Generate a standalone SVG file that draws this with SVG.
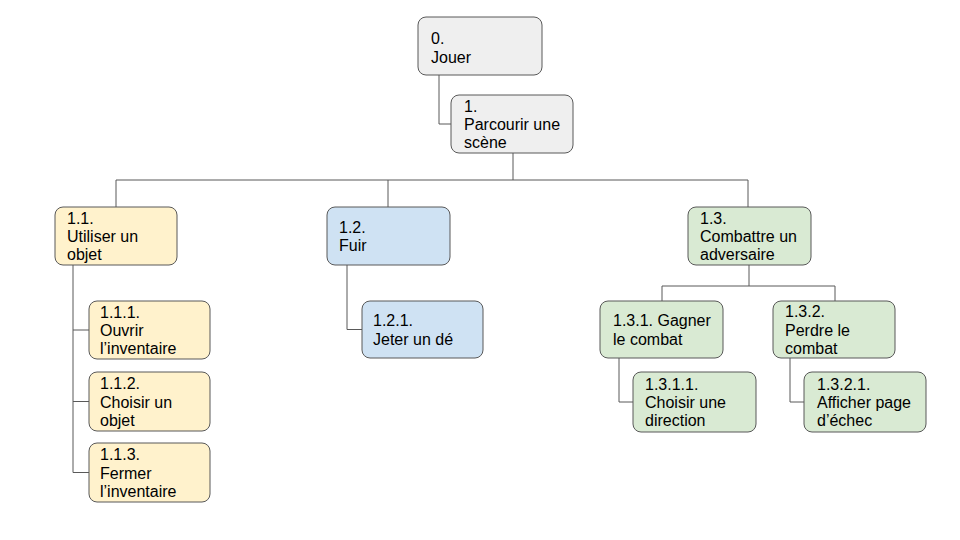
<svg xmlns="http://www.w3.org/2000/svg" width="960" height="540" viewBox="0 0 960 540">
<style>
  .box { stroke: #595959; stroke-width: 1; }
  .grey { fill: #efefef; }
  .yellow { fill: #fff2cc; }
  .blue { fill: #cfe2f3; }
  .green { fill: #d9ead3; }
  text { font-family: "Liberation Sans", Arial, sans-serif; font-size: 16px; fill: #000; }
  .conn { fill: none; stroke: #595959; stroke-width: 1; }
</style>
<rect width="960" height="540" fill="#ffffff"/>
<g id="connectors">
  <path class="conn" d="M439,75 V124 H451"/>
  <path class="conn" d="M513,153 V180"/>
  <path class="conn" d="M116,180 H748"/>
  <path class="conn" d="M116,180 V207"/>
  <path class="conn" d="M388,180 V207"/>
  <path class="conn" d="M748,180 V207"/>
  <path class="conn" d="M73,265 V472.5"/>
  <path class="conn" d="M73,330 H89"/>
  <path class="conn" d="M73,401.5 H89"/>
  <path class="conn" d="M73,472.5 H89"/>
  <path class="conn" d="M347,265 V329.5 H362"/>
  <path class="conn" d="M749,265 V286"/>
  <path class="conn" d="M662,286 H835"/>
  <path class="conn" d="M662,286 V301"/>
  <path class="conn" d="M835,286 V301"/>
  <path class="conn" d="M619,358 V402 H633"/>
  <path class="conn" d="M790,358 V402 H804"/>
</g>
<g id="n0">
  <rect class="box grey" x="418" y="17" width="124" height="58" rx="8"/>
  <text x="431" y="44">0.</text>
  <text x="431" y="63.3">Jouer</text>
</g>
<g id="n1">
  <rect class="box grey" x="451" y="95" width="122" height="58" rx="8"/>
  <text x="464" y="111.6">1.</text>
  <text x="464" y="130">Parcourir une</text>
  <text x="464" y="148.4">scène</text>
</g>
<g id="n1_1">
  <rect class="box yellow" x="55" y="207" width="122" height="58" rx="8"/>
  <text x="67" y="223.6">1.1.</text>
  <text x="67" y="242">Utiliser un</text>
  <text x="67" y="260.4">objet</text>
</g>
<g id="n1_1_1">
  <rect class="box yellow" x="89" y="301" width="121" height="58" rx="8"/>
  <text x="100" y="317.6">1.1.1.</text>
  <text x="100" y="336">Ouvrir</text>
  <text x="100" y="354.4">l’inventaire</text>
</g>
<g id="n1_1_2">
  <rect class="box yellow" x="89" y="372" width="121" height="59" rx="8"/>
  <text x="100" y="389.1">1.1.2.</text>
  <text x="100" y="407.5">Choisir un</text>
  <text x="100" y="425.9">objet</text>
</g>
<g id="n1_1_3">
  <rect class="box yellow" x="89" y="443" width="121" height="59" rx="8"/>
  <text x="100" y="460.1">1.1.3.</text>
  <text x="100" y="478.5">Fermer</text>
  <text x="100" y="496.9">l’inventaire</text>
</g>
<g id="n1_2">
  <rect class="box blue" x="327" y="207" width="123" height="58" rx="8"/>
  <text x="339" y="232.8">1.2.</text>
  <text x="339" y="251.2">Fuir</text>
</g>
<g id="n1_2_1">
  <rect class="box blue" x="362" y="301" width="121" height="57" rx="8"/>
  <text x="373" y="326.3">1.2.1.</text>
  <text x="373" y="344.7">Jeter un dé</text>
</g>
<g id="n1_3">
  <rect class="box green" x="688" y="207" width="123" height="58" rx="8"/>
  <text x="700" y="223.6">1.3.</text>
  <text x="700" y="242">Combattre un</text>
  <text x="700" y="260.4">adversaire</text>
</g>
<g id="n1_3_1">
  <rect class="box green" x="600" y="301" width="123" height="57" rx="8"/>
  <text x="613" y="326.3">1.3.1. Gagner</text>
  <text x="613" y="344.7">le combat</text>
</g>
<g id="n1_3_2">
  <rect class="box green" x="773" y="301" width="122" height="57" rx="8"/>
  <text x="785" y="317.1">1.3.2.</text>
  <text x="785" y="335.5">Perdre le</text>
  <text x="785" y="353.9">combat</text>
</g>
<g id="n1_3_1_1">
  <rect class="box green" x="633" y="372" width="123" height="60" rx="8"/>
  <text x="645" y="389.6">1.3.1.1.</text>
  <text x="645" y="408">Choisir une</text>
  <text x="645" y="426.4">direction</text>
</g>
<g id="n1_3_2_1">
  <rect class="box green" x="804" y="372" width="122" height="60" rx="8"/>
  <text x="817" y="389.6">1.3.2.1.</text>
  <text x="817" y="408">Afficher page</text>
  <text x="817" y="426.4">d’échec</text>
</g>
</svg>
